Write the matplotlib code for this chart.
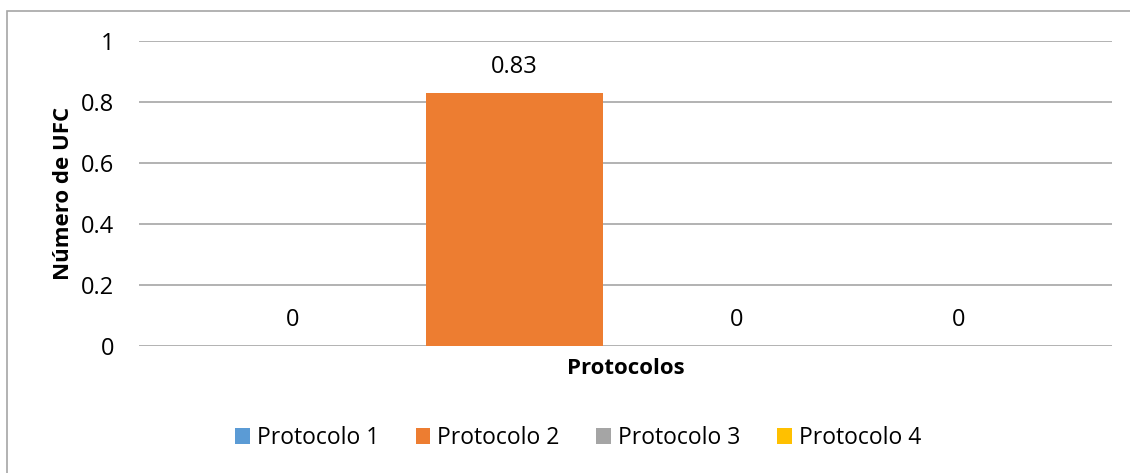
import matplotlib.pyplot as plt
import matplotlib.patches as patches

# datos
series = ['Protocolo 1', 'Protocolo 2', 'Protocolo 3', 'Protocolo 4']
valores = [0, 0.83, 0, 0]
colores = ['#5B9BD5', '#ED7D31', '#A5A5A5', '#FFC000']
yticks = [0, 0.2, 0.4, 0.6, 0.8, 1]
ytick_labels = ['0', '0.2', '0.4', '0.6', '0.8', '1']

plt.rcParams['font.family'] = ['Open Sans', 'DejaVu Sans']

W, H = 1130, 473
fig = plt.figure(figsize=(W / 100, H / 100), dpi=100)

# borde exterior del gráfico (recortado por la derecha y abajo)
fig.patches.append(patches.Rectangle((7 / W, -0.1), 1.2, 1 - 11 / H + 0.1,
                                     transform=fig.transFigure, fill=False,
                                     edgecolor='#A6A6A6', linewidth=1.2))

ax = fig.add_axes([139 / W, 1 - 346 / H, (1112 - 139) / W, (346 - 41) / H])

x = list(range(len(series)))
barras = ax.bar(x, valores, width=0.8, color=colores, label=series, zorder=3)
for xi, v in zip(x, valores):
    ax.text(xi, v + 0.045, f'{v:g}', ha='center', va='bottom', fontsize=17)

ax.set_xlim(-0.69, 3.69)
ax.set_ylim(0, 1)
ax.set_yticks(yticks)
ax.set_yticklabels(ytick_labels, fontsize=17)
ax.set_xticks([])
ax.tick_params(axis='y', length=0, pad=18)
ax.grid(True, axis='y', color='#A6A6A6', linewidth=1.2, zorder=0)
for s in ax.spines.values():
    s.set_visible(False)

ax.set_ylabel('Número de UFC', fontsize=16, fontweight='bold', labelpad=5)
ax.set_xlabel('Protocolos', fontsize=16, fontweight='bold', labelpad=9)

fig.legend(handles=barras, labels=series, loc='center', ncol=4,
           bbox_to_anchor=(578 / W, 1 - 438 / H), frameon=False, fontsize=16.5,
           handlelength=0.65, handleheight=0.65, handletextpad=0.3, columnspacing=1.6)

fig.savefig('out.png', dpi=100)
